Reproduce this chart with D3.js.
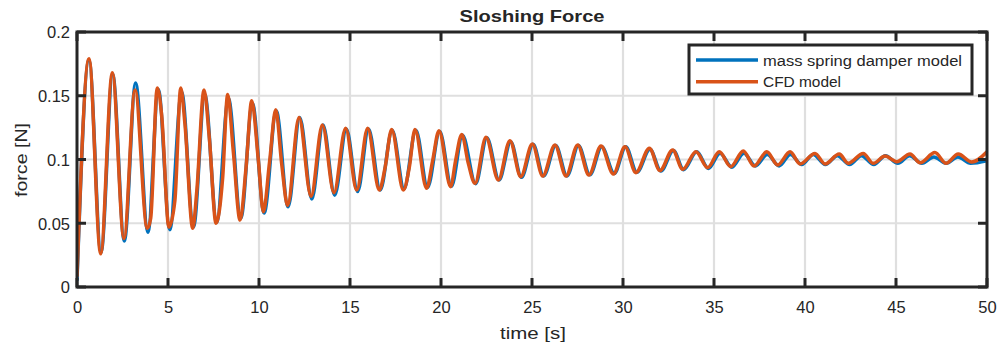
<!DOCTYPE html>
<html><head><meta charset="utf-8">
<script src="https://cdn.jsdelivr.net/npm/d3@7"></script>
<style>
html,body{margin:0;padding:0;background:#fff;}
svg text{font-family:"Liberation Sans",Arial,Helvetica,sans-serif;fill:#262626;}
</style></head>
<body>
<svg id="chart" width="999" height="347"></svg>
<script>
const title = "Sloshing Force";
const xLabel = "time [s]";
const yLabel = "force [N]";
const seriesNames = ["mass spring damper model", "CFD model"];
const xTicks = [0,5,10,15,20,25,30,35,40,45,50];
const yTicks = [0,0.05,0.1,0.15,0.2];
const yTickLabels = ["0","0.05","0.1","0.15","0.2"];

// mass spring damper model: [time, force] at read extrema
const springT = [0,0.66,1.32,1.96,2.6,3.22,3.9,4.47,5.1,5.75,6.4,7.02,7.68,8.32,9.0,9.64,10.28,10.95,11.6,12.24,12.9,13.52,14.16,14.8,15.42,16.02,16.66,17.32,17.97,18.62,19.26,19.93,20.57,21.18,21.9,22.52,23.19,23.83,24.42,25.06,25.64,26.3,26.92,27.55,28.18,28.83,29.52,30.15,30.76,31.48,32.08,32.77,33.33,34.05,34.7,35.33,35.98,36.64,37.27,37.93,38.58,39.2,39.82,40.45,41.12,41.78,42.45,43.1,43.78,44.42,45.1,45.75,46.42,47.08,47.76,48.4,49.1,50];
const springF = [0.005,0.178,0.027,0.167,0.036,0.160,0.043,0.155,0.045,0.153,0.047,0.151,0.051,0.148,0.054,0.144,0.058,0.138,0.063,0.133,0.069,0.127,0.072,0.124,0.075,0.124,0.076,0.123,0.077,0.123,0.078,0.122,0.079,0.119,0.081,0.117,0.084,0.114,0.086,0.112,0.087,0.111,0.087,0.111,0.088,0.110,0.089,0.110,0.090,0.108,0.091,0.107,0.092,0.106,0.093,0.105,0.094,0.105,0.095,0.104,0.095,0.104,0.096,0.104,0.096,0.103,0.096,0.103,0.096,0.103,0.097,0.103,0.097,0.102,0.097,0.102,0.097,0.099];

// CFD model: [time, force] at read extrema and shoulders
const cfdT = [0,0.66,1.3,1.94,2.58,3.19,3.86,4.05,4.41,4.65,5.05,5.38,5.7,5.93,6.36,6.58,6.98,7.27,7.64,8.0,8.28,8.59,8.96,9.29,9.6,9.96,10.24,10.58,10.92,11.25,11.57,12.2,12.86,13.48,14.12,14.76,15.37,15.97,16.61,16.92,17.29,17.93,18.26,18.57,19.21,19.54,19.89,20.53,20.8,21.14,21.5,21.87,22.47,23.15,23.79,24.38,25.02,25.59,26.26,26.87,27.51,28.13,28.79,29.47,30.11,30.71,31.45,32.03,32.73,33.28,34.01,34.65,35.29,35.92,36.61,37.2,37.9,38.5,39.18,39.73,40.55,41.1,41.88,42.38,43.2,43.75,44.4,45.04,45.77,46.32,47.14,47.75,48.42,49.16,50];
const cfdF = [0.008,0.179,0.026,0.168,0.038,0.1545,0.046,0.054,0.156,0.135,0.047,0.068,0.156,0.128,0.046,0.075,0.1545,0.117,0.050,0.085,0.151,0.106,0.0525,0.094,0.146,0.100,0.059,0.098,0.139,0.096,0.064,0.133,0.071,0.127,0.074,0.1245,0.076,0.1245,0.076,0.093,0.1236,0.076,0.094,0.1236,0.0774,0.099,0.1226,0.0787,0.099,0.1197,0.097,0.0813,0.1174,0.084,0.1148,0.0865,0.1122,0.087,0.1114,0.087,0.1114,0.0878,0.1106,0.0886,0.110,0.0897,0.1088,0.0913,0.1075,0.0923,0.1061,0.0936,0.106,0.0944,0.1067,0.0949,0.106,0.0957,0.106,0.0965,0.1048,0.0965,0.1043,0.097,0.1048,0.097,0.1027,0.0983,0.1043,0.0975,0.1054,0.097,0.1043,0.098,0.106];

const colors = ["#0072BD", "#D95319"];

const svg = d3.select("#chart");
const L = 77, R = 987, T = 32, B = 287;
const x = d3.scaleLinear().domain([0,50]).range([L,R]);
const y = d3.scaleLinear().domain([0,0.2]).range([B,T]);

// grid
const grid = svg.append("g");
grid.selectAll("line.gx").data(xTicks.slice(1,-1)).enter().append("line")
  .attr("x1", d=>x(d)).attr("x2", d=>x(d)).attr("y1", T).attr("y2", B)
  .attr("stroke", "#dfdfdf").attr("stroke-width", 2.2);
grid.selectAll("line.gy").data(yTicks.slice(1,-1)).enter().append("line")
  .attr("x1", L).attr("x2", R).attr("y1", d=>y(d)).attr("y2", d=>y(d))
  .attr("stroke", "#dfdfdf").attr("stroke-width", 2.2);

// lines
const line = d3.line().x(d=>x(d[0])).y(d=>y(d[1])).curve(d3.curveMonotoneX);
const springData = springT.map((t,i)=>[t, springF[i]]);
const cfdData = cfdT.map((t,i)=>[t, cfdF[i]]);
svg.append("clipPath").attr("id","clip").append("rect")
  .attr("x", L).attr("y", T).attr("width", R-L).attr("height", B-T);
const plot = svg.append("g").attr("clip-path","url(#clip)");
plot.append("path").datum(springData).attr("d", line)
  .attr("fill","none").attr("stroke", colors[0]).attr("stroke-width", 3.5).attr("stroke-linejoin","round");
plot.append("path").datum(cfdData).attr("d", line)
  .attr("fill","none").attr("stroke", colors[1]).attr("stroke-width", 3.5).attr("stroke-linejoin","round");

// tick marks (inward, all four sides)
const tickLen = 9;
const tk = svg.append("g").attr("stroke","#262626").attr("stroke-width",3);
xTicks.forEach(d=>{
  tk.append("line").attr("x1",x(d)).attr("x2",x(d)).attr("y1",B).attr("y2",B-tickLen);
  tk.append("line").attr("x1",x(d)).attr("x2",x(d)).attr("y1",T).attr("y2",T+tickLen);
});
yTicks.forEach(d=>{
  tk.append("line").attr("x1",L).attr("x2",L+tickLen).attr("y1",y(d)).attr("y2",y(d));
  tk.append("line").attr("x1",R).attr("x2",R-tickLen).attr("y1",y(d)).attr("y2",y(d));
});

// axes for labels only
const axB = svg.append("g").attr("transform", `translate(0,${B})`)
  .call(d3.axisBottom(x).tickValues(xTicks).tickSize(0).tickPadding(14));
const axL = svg.append("g").attr("transform", `translate(${L},0)`)
  .call(d3.axisLeft(y).tickValues(yTicks).tickSize(0).tickPadding(7)
    .tickFormat((d,i)=>yTickLabels[i]));
[axB,axL].forEach(a=>{
  a.select(".domain").remove();
  a.selectAll(".tick line").remove();
  a.selectAll(".tick text").attr("font-size",16.5).attr("fill","#262626")
    .style("font-family",'"Liberation Sans",Arial,sans-serif');
});
axB.selectAll(".tick text").attr("dy", null).attr("y", 26);
axL.selectAll(".tick text").attr("dy","0.36em");

svg.append("rect").attr("x",L).attr("y",T).attr("width",R-L).attr("height",B-T)
  .attr("fill","none").attr("stroke","#262626").attr("stroke-width",3);

// labels
svg.append("text").attr("x",(L+R)/2).attr("y",22).attr("text-anchor","middle")
  .attr("font-size",17).attr("font-weight","bold").attr("fill","#000")
  .attr("textLength",145).attr("lengthAdjust","spacingAndGlyphs").text(title);
svg.append("text").attr("x",533).attr("y",339).attr("text-anchor","middle")
  .attr("font-size",17).attr("textLength",66).attr("lengthAdjust","spacingAndGlyphs").text(xLabel);
svg.append("text").attr("transform",`translate(27,160) rotate(-90)`).attr("text-anchor","middle")
  .attr("font-size",17).attr("textLength",74).attr("lengthAdjust","spacingAndGlyphs").text(yLabel);

// legend
const lg = svg.append("g");
lg.append("rect").attr("x",689).attr("y",45).attr("width",283).attr("height",49)
  .attr("fill","#fff").attr("stroke","#262626").attr("stroke-width",3);
const legendLens = [199, 78];
seriesNames.forEach((n,i)=>{
  const yy = 60 + i*21.7;
  lg.append("line").attr("x1",696).attr("x2",758).attr("y1",yy).attr("y2",yy)
    .attr("stroke",colors[i]).attr("stroke-width",3.5);
  lg.append("text").attr("x",763).attr("y",yy+5.5).attr("font-size",15.5).attr("fill","#000")
    .attr("textLength",legendLens[i]).attr("lengthAdjust","spacingAndGlyphs").text(n);
});
</script>
</body></html>
